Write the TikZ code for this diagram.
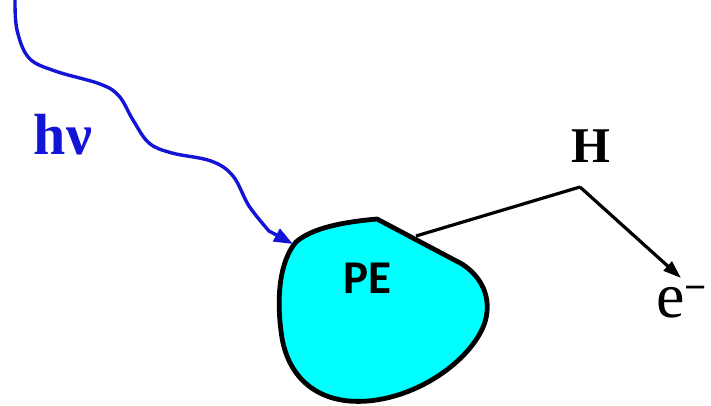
\documentclass[tikz,border=0pt]{standalone}
\usepackage{fontspec}
\setmainfont{Liberation Serif}
\newfontfamily\labelsans{Carlito}
\usetikzlibrary{arrows.meta}
\definecolor{photonblue}{RGB}{20,20,215}
\definecolor{grain}{RGB}{0,255,255}
\tikzset{
  photon/.style={draw=photonblue, line width=3.4pt, line cap=round,
    -{Triangle[length=19pt,width=14pt]}},
  grainbody/.style={fill=grain, draw=black, line width=4.8pt, line join=round},
  track/.style={draw=black, line width=3.2pt, line join=miter},
  lbl/.style={inner sep=0pt, anchor=base}
}
\begin{document}
\begin{tikzpicture}[x=1pt, y=-1pt]
\useasboundingbox (0,0) rectangle (711,406);

% particle outline with its sharp top corner
\coordinate (peak) at (377,219);
\coordinate (hit) at (293,244);
\coordinate (bond) at (416,236);
\coordinate (kink) at (580,187);
\coordinate (eout) at (681,278);
\coordinate (src) at (15,0);

\path[grainbody] (peak) -- (462,264)
  .. controls (482,277) and (492,298) .. (485,322)
  .. controls (474,356) and (424,396) .. (368,401)
  .. controls (318,405) and (289,378) .. (282,338)
  .. controls (276,300) and (279,262) .. (296,242)
  .. controls (312,228) and (343,222) .. cycle;

% incoming photon
\draw[photon] plot[smooth, tension=0.6] coordinates {
  (src) (17,30) (29,58) (55,71) (100,84) (119,96) (133,120)
  (149,143) (172,153) (211,161) (233,176) (249,206) (269,231) }
  -- (hit);

% outgoing electron track
\draw[track] (bond) -- (kink);
\draw[track, -{Triangle[length=18pt,width=12pt]}] (kink) -- (eout);

% labels
\node[lbl, text=photonblue] (hnu) at (63,155) {\fontsize{58}{58}\selectfont\bfseries hν};
\node[lbl] (pe) at (367,293) {\labelsans\fontsize{47}{47}\selectfont\bfseries PE};
\node[lbl] (hlab) at (591,162) {\fontsize{50}{50}\selectfont\bfseries H};
\node[inner sep=0pt, anchor=base west] (elec) at (656,317)
  {\fontsize{64}{64}\selectfont e\raisebox{17pt}{\fontsize{39}{39}\selectfont\bfseries −}};
\end{tikzpicture}
\end{document}
